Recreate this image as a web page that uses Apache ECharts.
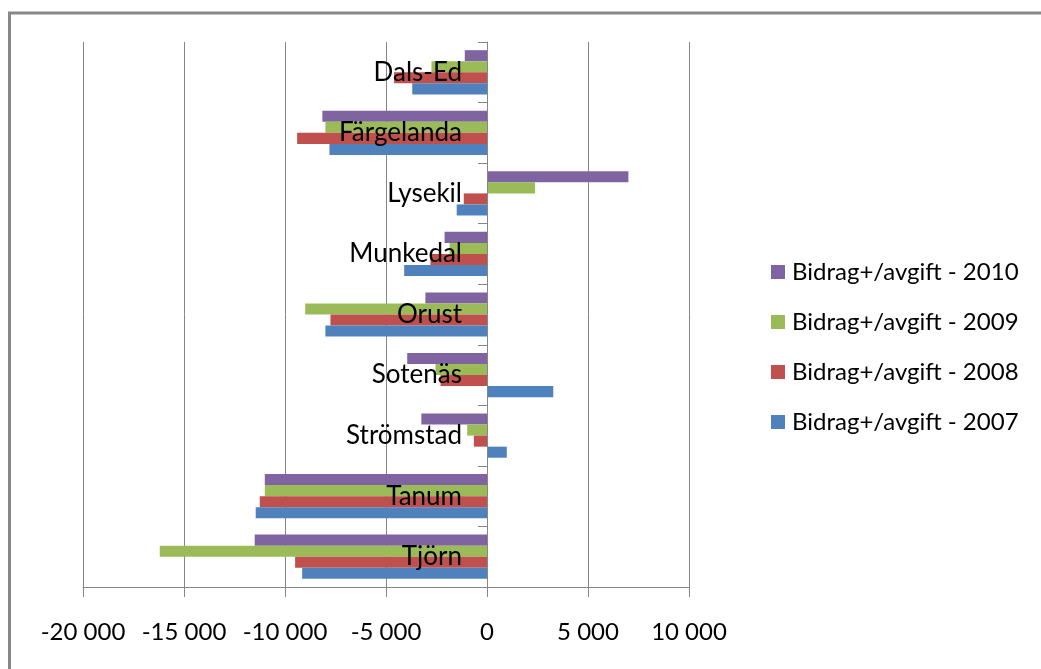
<!DOCTYPE html>
<html><head><meta charset="utf-8">
<script src="https://cdn.jsdelivr.net/npm/echarts@6/dist/echarts.min.js"></script>
<style>html,body{margin:0;padding:0;background:#fff}#c{width:1041px;height:669px}</style>
</head><body><div id="c"></div>
<script>
const categories = ['Dals-Ed','Färgelanda','Lysekil','Munkedal','Orust','Sotenäs','Strömstad','Tanum','Tjörn'];
const seriesNames = ['Bidrag+/avgift - 2010','Bidrag+/avgift - 2009','Bidrag+/avgift - 2008','Bidrag+/avgift - 2007'];
const v2010 = [-1100, -8150, 7000, -2100, -3050, -3950, -3250, -11000, -11500];
const v2009 = [-2750, -8000, 2380, -1850, -9000, -2550, -980, -11000, -16200];
const v2008 = [-4600, -9400, -1150, -2800, -7750, -2300, -650, -11250, -9500];
const v2007 = [-3700, -7800, -1500, -4100, -8000, 3280, 980, -11450, -9150];
const colors = ['#8064A2','#9BBB59','#C0504D','#4F81BD'];
const xTicks = [-20000,-15000,-10000,-5000,0,5000,10000];

function fmt(v){
  const s = Math.abs(v).toString().replace(/\B(?=(\d{3})+(?!\d))/g,' ');
  return (v<0?'-':'') + s;
}
const font = 'Lato';
const chart = echarts.init(document.getElementById('c'));
const values = [v2010, v2009, v2008, v2007];
const W = 1041, gridL = 83, gridR = 352;
// pixel offset of the zero line from the grid's left edge, derived from the axis range
const zeroOffset = (0 - xTicks[0]) / (xTicks[xTicks.length-1] - xTicks[0]) * (W - gridL - gridR);
chart.setOption({
  animation:false,
  color: colors,
  textStyle:{fontFamily:font},
  grid:{left:gridL, right:gridR, top:42, bottom:82, containLabel:false, outerBoundsMode:'none'},
  legend:{
    orient:'vertical', left:766, top:255, itemGap:26, itemWidth:14, itemHeight:14,
    icon:'rect', data: seriesNames,
    textStyle:{fontFamily:font, fontSize:24, color:'#000', padding:[0,0,0,2]}
  },
  xAxis:{
    type:'value', min:xTicks[0], max:xTicks[xTicks.length-1], interval:5000,
    axisLine:{show:true, lineStyle:{color:'#868686'}},
    axisTick:{show:true, length:10, lineStyle:{color:'#868686'}},
    splitLine:{show:true, lineStyle:{color:'#868686', width:1}},
    axisLabel:{formatter:fmt, fontSize:24, color:'#000', margin:33, fontFamily:font}
  },
  yAxis:{
    type:'category', data:categories, inverse:true, z:10,
    offset: -zeroOffset,
    axisLine:{show:true, onZero:false, lineStyle:{color:'#868686'}},
    axisTick:{show:true, length:9, lineStyle:{color:'#868686'}},
    axisLabel:{fontSize:26, color:'#000', margin:25, fontFamily:font}
  },
  graphic:[{type:'polyline', shape:{points:[[9.5,669],[9.5,13],[1041,13]]}, style:{stroke:'#888', lineWidth:3, fill:null}, silent:true}],
  series: seriesNames.map((n,i)=>({
    name:n, type:'bar', data:values[i], barGap:'0%', barCategoryGap:'27%',
    itemStyle:{color:colors[i]}
  }))
});
</script></body></html>
